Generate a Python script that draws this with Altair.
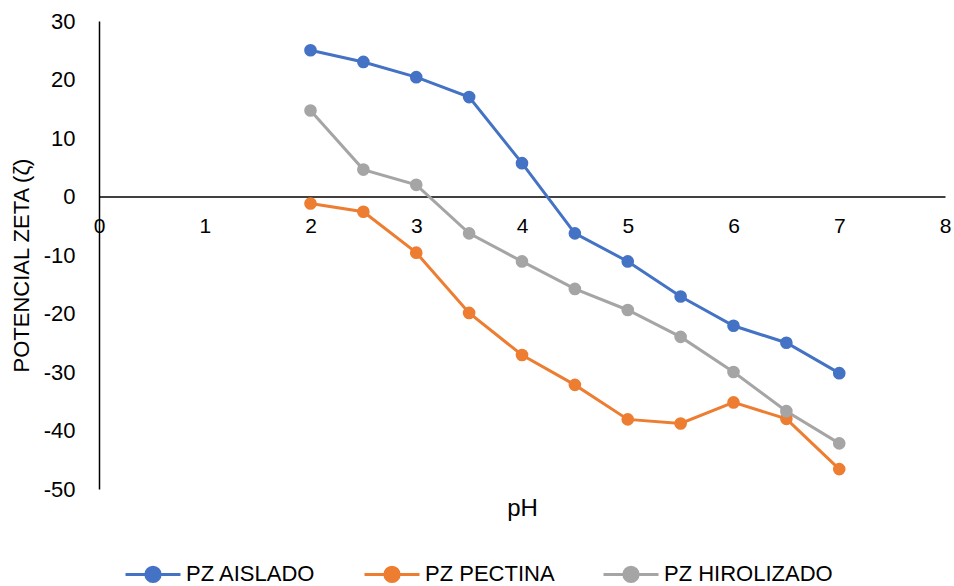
import altair as alt
import pandas as pd

ph = [2, 2.5, 3, 3.5, 4, 4.5, 5, 5.5, 6, 6.5, 7]
aislado = [25.0, 23.0, 20.4, 17.0, 5.7, -6.3, -11.1, -17.1, -22.1, -25.0, -30.2]
pectina = [-1.2, -2.6, -9.6, -19.9, -27.1, -32.2, -38.1, -38.8, -35.2, -38.0, -46.6]
hirolizado = [14.7, 4.6, 2.0, -6.3, -11.1, -15.8, -19.4, -24.0, -30.0, -36.7, -42.2]
series = ["PZ AISLADO", "PZ PECTINA", "PZ HIROLIZADO"]
colors = ["#4472C4", "#ED7D31", "#A5A5A5"]
x_ticks = [0, 1, 2, 3, 4, 5, 6, 7, 8]
y_ticks = [-50, -40, -30, -20, -10, 0, 10, 20, 30]

rows = []
for name, vals in zip(series, [aislado, pectina, hirolizado]):
    for p, v in zip(ph, vals):
        rows.append({"pH": p, "zeta": v, "serie": name})
df = pd.DataFrame(rows)

FONT = "Liberation Sans"
W, H = 846, 468

legend_symbol = "M-1,0H1M-0.26,0A0.26,0.26 0 1,1 0.26,0A0.26,0.26 0 1,1 -0.26,0Z"

base = alt.Chart(df).encode(
    x=alt.X(
        "pH:Q",
        scale=alt.Scale(domain=[0, 8], nice=False, zero=False),
        axis=alt.Axis(
            values=x_ticks,
            offset=-(H - H * 30 / 80),
            ticks=False,
            grid=False,
            domainColor="#000000",
            domainWidth=1.5,
            labelFont=FONT,
            labelFontSize=21,
            labelColor="#000000",
            labelPadding=19,
            labelFlush=False,
            title="pH",
            titleFont=FONT,
            titleFontSize=24,
            titleFontWeight="normal",
            titleColor="#000000",
            titleY=312,
            titleBaseline="middle",
        ),
    ),
    y=alt.Y(
        "zeta:Q",
        scale=alt.Scale(domain=[-50, 30], nice=False, zero=False),
        axis=alt.Axis(
            values=y_ticks,
            ticks=False,
            grid=False,
            domainColor="#000000",
            domainWidth=1.5,
            labelFont=FONT,
            labelFontSize=22,
            labelColor="#000000",
            labelPadding=24,
            labelExpr="toString(datum.value)",
            title="POTENCIAL ZETA (ζ)",
            titleFont=FONT,
            titleFontSize=22,
            titleFontWeight="normal",
            titleColor="#000000",
            titlePadding=10,
            titleY=244,
        ),
    ),
    color=alt.Color(
        "serie:N",
        scale=alt.Scale(domain=series, range=colors),
        legend=alt.Legend(
            title=None,
            orient="none",
            direction="horizontal",
            legendX=25,
            legendY=524,
            symbolType=legend_symbol,
            symbolSize=3025,
            symbolStrokeWidth=3,
            symbolOpacity=1,
            labelFont=FONT,
            labelFontSize=22,
            labelColor="#000000",
            labelOffset=4,
            labelLimit=400,
            columnPadding=42,
        ),
    ),
)

lines = base.mark_line(strokeWidth=3)
points = base.mark_point(filled=True, size=160, opacity=1)

chart = (
    alt.layer(lines, points)
    .properties(
        width=W,
        height=H,
        autosize=alt.AutoSizeParams(type="none"),
        padding={"left": 99, "top": 21, "right": 9, "bottom": 97},
        background="#ffffff",
    )
    .configure_view(stroke=None)
)

chart.save("out.html", embed_options={"renderer": "svg", "actions": False})
